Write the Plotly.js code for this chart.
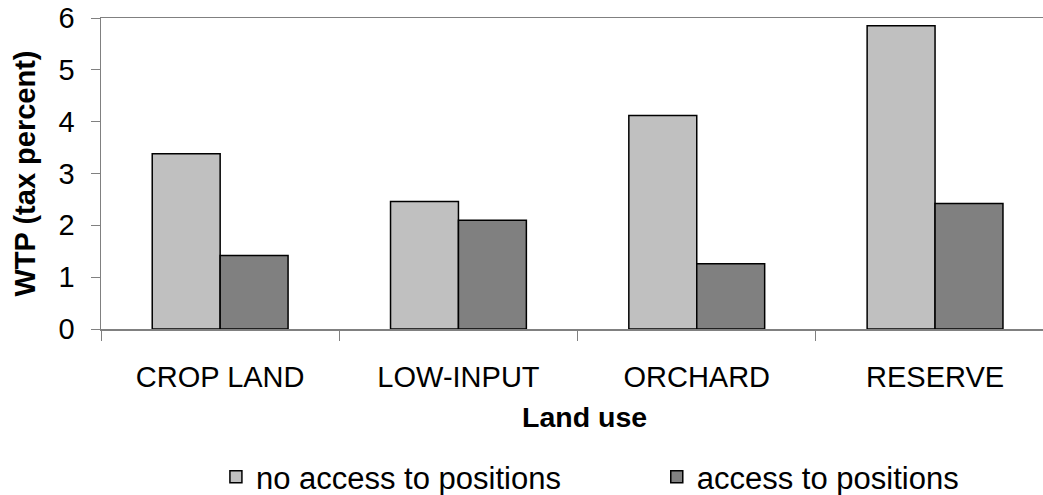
<!DOCTYPE html>
<html>
<head>
<meta charset="utf-8">
<script src="https://cdn.plot.ly/plotly-3.0.1.min.js"></script>
<style>html,body{margin:0;padding:0;background:#fff;}#chart{width:1043px;height:495px;}</style>
</head>
<body>
<div id="chart"></div>
<script>
var categories = ["CROP LAND", "LOW-INPUT", "ORCHARD", "RESERVE"];
var noAccess = [3.38, 2.46, 4.12, 5.85];
var withAccess = [1.42, 2.1, 1.26, 2.42];
var seriesNames = ["no access to positions", "access to positions"];
var yTicks = [0, 1, 2, 3, 4, 5, 6];
var xTitle = "Land use";
var yTitle = "WTP (tax percent)";

var FONT = "Liberation Sans, Arial, sans-serif";

var traces = [
  {type: "bar", x: categories, y: noAccess, name: seriesNames[0], legend: "legend",
   marker: {color: "#c0c0c0", line: {color: "#000000", width: 1.5}}},
  {type: "bar", x: categories, y: withAccess, name: seriesNames[1], legend: "legend2",
   marker: {color: "#808080", line: {color: "#000000", width: 1.5}}}
];

var legendBase = {orientation: "h", xanchor: "left", yanchor: "middle", yref: "container", y: 0.036,
  font: {family: FONT, size: 31, color: "#000"}, itemclick: false, bgcolor: "rgba(0,0,0,0)"};

var layout = {
  width: 1043, height: 495,
  margin: {l: 101, r: 0, t: 18, b: 166, pad: 0},
  paper_bgcolor: "#ffffff", plot_bgcolor: "#ffffff",
  barmode: "group", bargap: 0.43, bargroupgap: 0,
  font: {family: FONT, color: "#000000", size: 29},
  showlegend: true,
  legend: Object.assign({}, legendBase, {x: 0.122}),
  legend2: Object.assign({}, legendBase, {x: 0.590}),
  xaxis: {type: "category", range: [-0.5, 3.453], tickson: "boundaries",
          ticks: "outside", ticklen: 10, tickcolor: "#808080", tickwidth: 1,
          showline: true, linecolor: "#808080", linewidth: 1.5, mirror: true,
          showgrid: false, zeroline: false, ticklabelstandoff: 22,
          tickfont: {family: FONT, size: 29, color: "#000"}},
  yaxis: {range: [0, 6], tickvals: yTicks, ticktext: yTicks.map(String),
          ticks: "outside", ticklen: 9, tickcolor: "#808080", tickwidth: 1,
          showline: true, linecolor: "#808080", linewidth: 1.5,
          showgrid: false, zeroline: false, ticklabelstandoff: 10,
          tickfont: {family: FONT, size: 29, color: "#000"},
          title: {text: yTitle, font: {family: FONT, size: 29, color: "#000", weight: "bold"}, standoff: 14}},
  annotations: [
    {text: "<b>" + xTitle + "</b>", xref: "paper", yref: "paper", x: 0.5138, y: -0.282,
     xanchor: "center", yanchor: "middle", showarrow: false,
     font: {family: FONT, size: 28.5, color: "#000"}}
  ]
};

Plotly.newPlot("chart", traces, layout, {displayModeBar: false, staticPlot: true});
</script>
</body>
</html>
